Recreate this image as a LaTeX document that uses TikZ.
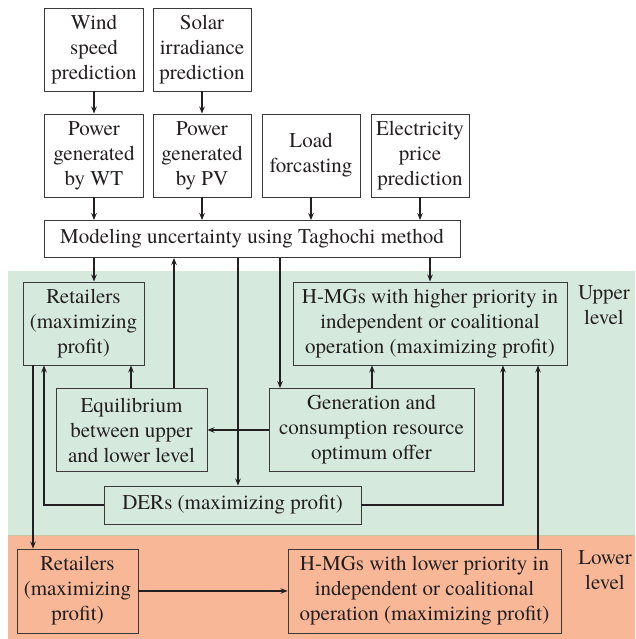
\documentclass[tikz,border=0pt]{standalone}
\usepackage{fontspec}
\setmainfont{TeX Gyre Termes}
\usetikzlibrary{arrows.meta}
\definecolor{upbg}{HTML}{D5EADC}
\definecolor{lowbg}{HTML}{F8B898}
\definecolor{sepcol}{HTML}{C5C8A0}
\definecolor{ink}{HTML}{231F20}
\definecolor{boxline}{HTML}{3A3A3A}
\tikzset{
  box/.style={draw=boxline, line width=0.9pt, align=center, inner sep=0pt,
    font=\fontsize{21}{25}\selectfont, text=ink},
  tall/.style={minimum height=83pt},
  arr/.style={draw=ink, line width=1.5pt, -{Stealth[length=7pt,width=5.5pt]}},
  lvl/.style={align=center, font=\fontsize{21}{25}\selectfont, text=ink}
}
\begin{document}
\begin{tikzpicture}[x=1pt,y=-1pt]
\useasboundingbox (0,0) rectangle (635,639);
% bands
\fill[upbg] (8,271) rectangle (635,535);
\fill[lowbg] (8,535) rectangle (635,639);
\draw[sepcol, line width=1pt] (8,535) -- (635,535);
% top boxes
\node[box, tall, fill=white, minimum width=99pt] (wind) at (94,49.5) {Wind\\speed\\prediction};
\node[box, tall, fill=white, minimum width=98pt] (solar) at (202,49.5) {Solar\\irradiance\\prediction};
\node[box, tall, fill=white, minimum width=99pt] (wt) at (94,155.5) {Power\\generated\\by WT};
\node[box, tall, fill=white, minimum width=98pt] (pv) at (202,155.5) {Power\\generated\\by PV};
\node[box, tall, fill=white, minimum width=98pt] (load) at (311,155.5) {Load\\forcasting};
\node[box, tall, fill=white, minimum width=98pt] (elec) at (420,155.5) {Electricity\\price\\prediction};
\node[box, fill=white, minimum width=416pt, minimum height=37pt] (model) at (252,239) {Modeling uncertainty using Taghochi method};
% upper level
\node[box, tall, minimum width=121pt] (ret1) at (83.5,323.5) {Retailers\\(maximizing\\profit)};
\node[box, tall, minimum width=274pt] (hmg1) at (430,323.5) {H-MGs with higher priority in\\independent or coalitional\\operation (maximizing profit)};
\node[box, tall, minimum width=151pt] (equ) at (131.5,430) {Equilibrium\\between upper\\and lower level};
\node[box, tall, minimum width=205pt] (gen) at (371.5,430) {Generation and\\consumption resource\\optimum offer};
\node[box, minimum width=257pt, minimum height=38pt] (ders) at (232.5,505) {DERs (maximizing profit)};
% lower level
\node[box, minimum width=121pt, minimum height=84pt] (ret2) at (77.5,591) {Retailers\\(maximizing\\profit)};
\node[box, minimum width=273pt, minimum height=84pt] (hmg2) at (424.5,591) {H-MGs with lower priority in\\independent or coalitional\\operation (maximizing profit)};
% level labels
\node[lvl] (up) at (604,305) {Upper\\level};
\node[lvl] (low) at (605,570) {Lower\\level};
% helper coordinates
\coordinate (xa) at (94,0);
\coordinate (xb) at (174,0);
\coordinate (xc) at (238,0);
\coordinate (xd) at (280,0);
\coordinate (xe) at (430,0);
\coordinate (xf) at (44,0);
\coordinate (xg) at (503,0);
\coordinate (xh) at (33,0);
\coordinate (xi) at (538,0);
\coordinate (xj) at (131,0);
\coordinate (xk) at (372,0);
% connectors
\draw[arr] (wind) -- (wt);
\draw[arr] (solar) -- (pv);
\draw[arr] (wt.south) -- (wt.south |- model.north);
\draw[arr] (pv.south) -- (pv.south |- model.north);
\draw[arr] (load.south) -- (load.south |- model.north);
\draw[arr] (elec.south) -- (elec.south |- model.north);
\draw[arr] (model.south -| xa) -- (ret1.north -| xa);
\draw[arr] (equ.north -| xb) -- (model.south -| xb);
\draw[arr] (model.south -| xc) -- (ders.north -| xc);
\draw[arr] (model.south -| xd) -- (gen.north -| xd);
\draw[arr] (model.south -| xe) -- (hmg1.north -| xe);
\draw[arr] (equ.north -| xj) -- (ret1.south -| xj);
\draw[arr] (gen.west) -- (equ.east);
\draw[arr] (gen.north -| xk) -- (hmg1.south -| xk);
\draw[arr] (ders.west) -| (ret1.south -| xf);
\draw[arr] (ders.east) -| (hmg1.south -| xg);
\draw[arr] (ret1.south -| xh) -- (ret2.north -| xh);
\draw[arr] (hmg2.north -| xi) -- (hmg1.south -| xi);
\draw[arr] (ret2.east) -- (hmg2.west);
\end{tikzpicture}
\end{document}
